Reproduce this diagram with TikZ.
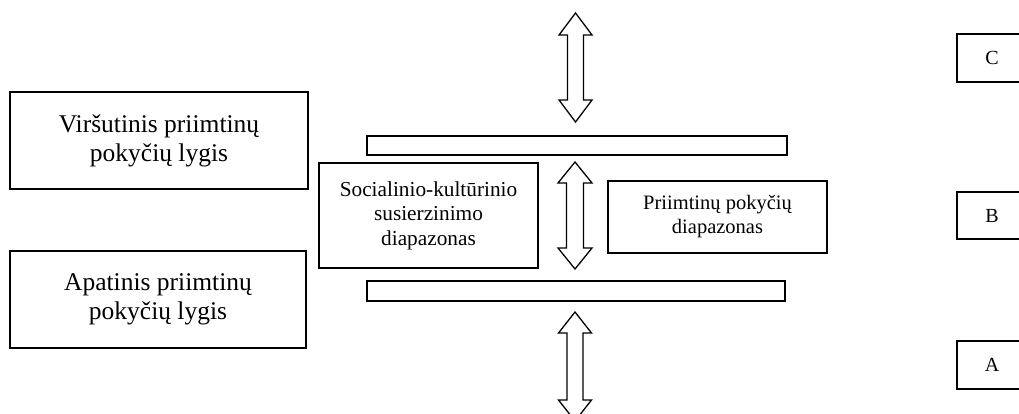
\documentclass[tikz,border=0pt]{standalone}
\usepackage{fontspec}
\setmainfont{Liberation Serif}
\newcommand\dblarrow[6]{%
  \draw[arrowline] (#1,#2) -- (#1+#4,#2+#6) -- (#1+#5,#2+#6) -- (#1+#5,#3-#6) -- (#1+#4,#3-#6) -- (#1,#3)
    -- (#1-#4,#3-#6) -- (#1-#5,#3-#6) -- (#1-#5,#2+#6) -- (#1-#4,#2+#6) -- cycle;}
\begin{document}
\begin{tikzpicture}[x=1pt,y=-1pt,
  box/.style={draw, line width=1.5pt, inner sep=0pt, align=center},
  bigtext/.style={font=\fontsize{25.5}{29}\selectfont},
  midtext/.style={font=\fontsize{21.3}{24.5}\selectfont},
  smalltext/.style={font=\fontsize{20.5}{24}\selectfont},
  lettertext/.style={font=\fontsize{20}{24}\selectfont},
  arrowline/.style={draw, line width=1.3pt, line join=miter},
  bar/.style={draw, line width=1.5pt}]
\useasboundingbox (0,0) rectangle (1019,414);
\clip (0,0) rectangle (1019,414);
% left boxes
\node[box, bigtext, minimum width=298pt, minimum height=97pt] (upper) at (159,140.5) {Viršutinis priimtinų\\pokyčių lygis};
\node[box, bigtext, minimum width=296pt, minimum height=97pt] (lower) at (158,299.5) {Apatinis priimtinų\\pokyčių lygis};
% bars
\draw[bar] (367,136) rectangle (787,155);
\draw[bar] (367,281) rectangle (785,301);
% middle boxes
\node[box, midtext, minimum width=219pt, minimum height=105pt] (socio) at (428.5,215.5) {Socialinio-kultūrinio\\susierzinimo\\diapazonas};
\node[box, smalltext, minimum width=219pt, minimum height=72pt] (range) at (717.5,217) {Priimtinų pokyčių\\diapazonas};
% right letter boxes
\node[box, lettertext, minimum width=74pt, minimum height=48pt] (C) at (994,58) {};
\node[box, lettertext, minimum width=74pt, minimum height=47pt] (B) at (994,215.5) {};
\node[box, lettertext, minimum width=74pt, minimum height=48pt] (A) at (994,365) {};
\node[lettertext] (Ct) at (992,58) {C};
\node[lettertext] (Bt) at (992,215.5) {B};
\node[lettertext] (At) at (992,365) {A};
% double arrows
\dblarrow{575.5}{13}{122}{16.5}{8}{22}
\dblarrow{575}{162}{269}{17}{8.5}{21}
\dblarrow{575}{312}{421}{16.5}{8}{21}
\end{tikzpicture}
\end{document}
